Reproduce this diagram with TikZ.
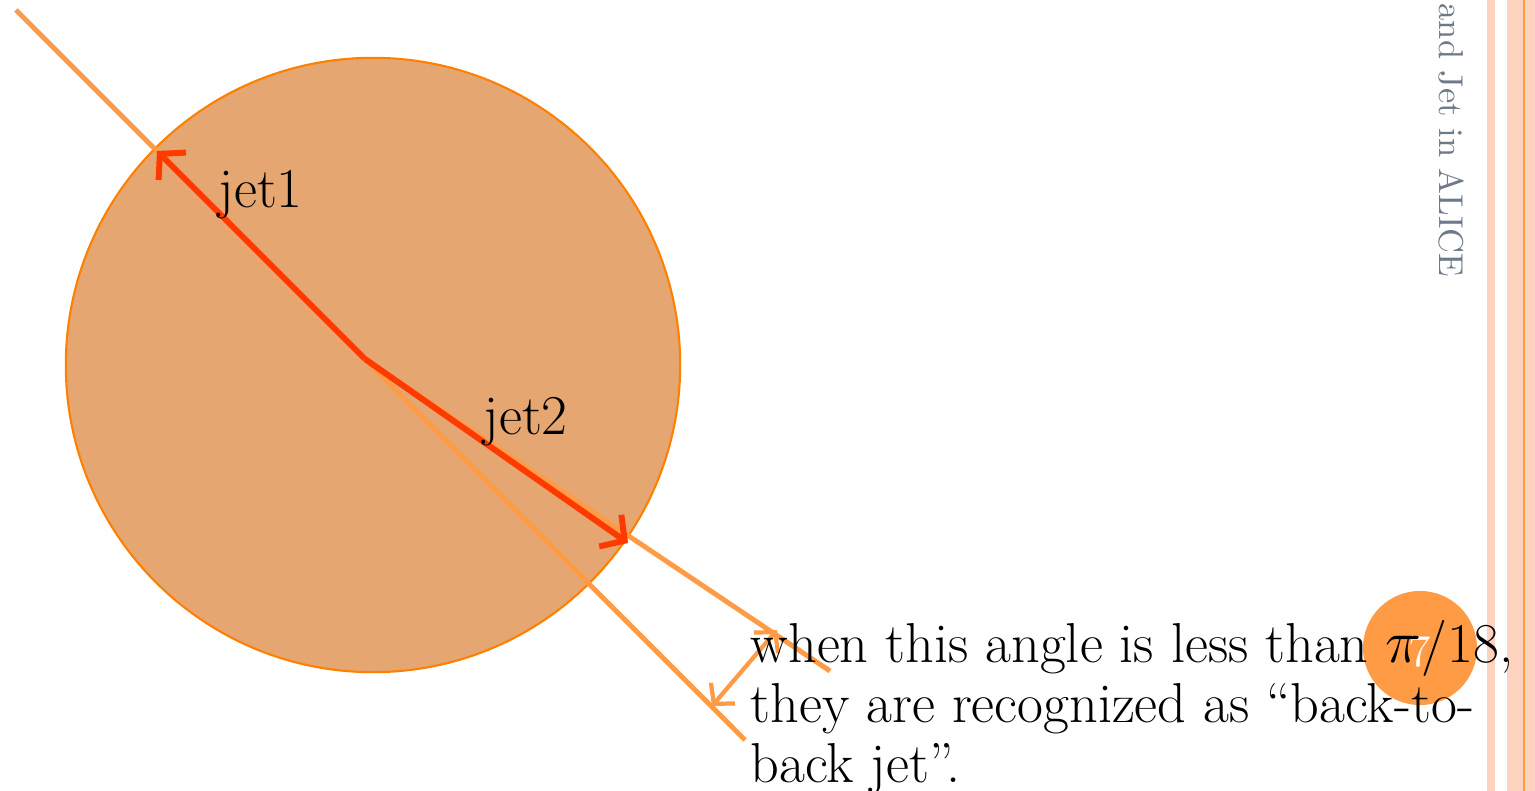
\documentclass[tikz,border=0pt]{standalone}
\usetikzlibrary{arrows.meta}
\definecolor{fillc}{HTML}{E5A672}
\definecolor{rimc}{HTML}{FF8000}
\definecolor{linec}{HTML}{FF9A45}
\definecolor{jetc}{HTML}{FF3A00}
\definecolor{pinkc}{HTML}{FDD3C0}
\definecolor{grayc}{HTML}{6E7A8A}
\definecolor{pagec}{HTML}{FF9A45}
\begin{document}
\begin{tikzpicture}[x=0.01cm,y=-0.01cm,
  guide/.style={draw=linec,line width=1.4pt},
  jetarrow/.style={draw=jetc,line width=1.7pt,-{Straight Barb[length=5pt,width=11pt]}},
  anglearrow/.style={draw=linec,line width=1.2pt,{Straight Barb[length=4pt,width=9pt]}-{Straight Barb[length=4pt,width=9pt]}},
  lbl/.style={inner sep=0pt,font=\fontsize{16}{17.07}\selectfont,anchor=base west},
]
\useasboundingbox (0,0) rectangle (1535,791);
\fill[white] (0,0) rectangle (1535,791);
% side stripes
\fill[pinkc] (1487,0) rectangle (1495,791);
\fill[pinkc] (1507,0) rectangle (1535,791);
\draw[linec,line width=0.45pt] (1524,0) -- (1524,791);
% disk
\node[circle,draw=rimc,fill=fillc,line width=0.6pt,minimum size=6.14cm,inner sep=0pt] (disk) at (373,365) {};
% points
\coordinate (O) at (365,359);
\coordinate (A1) at (16,10);
\coordinate (A2) at (745,740);
\coordinate (B2) at (830,671);
\coordinate (J1) at (157,151);
\coordinate (J2) at (628,543);
\coordinate (P) at (777,630);
\coordinate (Q) at (712,706);
% guide lines
\draw[guide] (A1) -- (A2);
\draw[guide] (O) -- (B2);
% jets
\draw[jetarrow] (O) -- (J1);
\draw[jetarrow] (O) -- (J2);
% angle
\draw[anglearrow] (P) -- (Q);
% labels
\node[lbl] (jet1) at (218,208) {jet1};
\node[lbl] (jet2) at (483,435) {jet2};
% page number
\node[circle,fill=pagec,minimum size=1.14cm,inner sep=0pt] (pg) at (1420,648) {};
\node[text=white,inner sep=0pt,font=\fontsize{13}{15}\selectfont] (pgnum) at (1420,652) {7};
% title
\node[text=grayc,inner sep=0pt,font=\fontsize{9.8}{12}\selectfont,rotate=-90,anchor=base west] (title) at (1439,3) {and Jet in ALICE};
% note
\node[lbl,align=left] (note) at (750,783) {when this angle is less than $\pi$/18,\\they are recognized as \textquotedblleft back-to-\\back jet\textquotedblright.};
\end{tikzpicture}
\end{document}
